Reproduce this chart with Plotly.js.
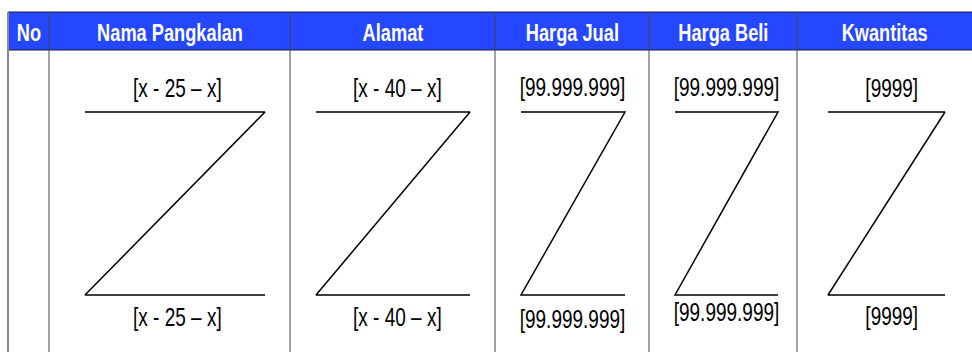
<!DOCTYPE html>
<html>
<head>
<meta charset="utf-8">
<script src="https://cdn.plot.ly/plotly-3.0.1.min.js"></script>
<style>
    html, body { margin: 0; padding: 0; background: #fff; }
    #plot { width: 972px; height: 352px; }
    /* the original uses a narrow face; squeeze Liberation Sans to match */
    #plot .annotation-text {
        transform-box: fill-box;
        transform-origin: center;
        transform: scaleX(0.76);
    }
</style>
</head>
<body>
<div id="plot"></div>
<script>
// Table content
const headers = ['No', 'Nama Pangkalan', 'Alamat', 'Harga Jual', 'Harga Beli', 'Kwantitas'];
const topLabels = ['', '[x - 25 – x]', '[x - 40 – x]', '[99.999.999]', '[99.999.999]', '[9999]'];
const bottomLabels = ['', '[x - 25 – x]', '[x - 40 – x]', '[99.999.999]', '[99.999.999]', '[9999]'];

// Layout of the drawing (pixel units, y down)
const colEdges = [8, 49, 290, 495, 649, 797, 972];
const zLeft = [null, 85, 316, 521, 675, 828];
const zRight = [null, 265, 470, 625, 778, 945];
const labelX = [null, 177, 397, 572, 726, 892];
const topLabelY = [null, 88, 88, 87, 87, 88];
const bottomLabelY = [null, 317, 317, 319, 312, 316];
const headerTop = 12, headerBottom = 50;
const zTop = 112, zBottom = 295;

const font = '"Liberation Sans", Arial, sans-serif';

function drawTable() {
    const traces = [];
    const annotations = [];
    const shapes = [];

    // Header band
    shapes.push({
        type: 'rect', xref: 'x', yref: 'y',
        x0: colEdges[0], x1: colEdges[colEdges.length - 1] + 2, y0: headerTop, y1: headerBottom,
        fillcolor: '#2447ff', line: { color: '#1a1a3a', width: 1 }, layer: 'below'
    });

    // Column separators
    colEdges.forEach((x, i) => {
        if (i === colEdges.length - 1) return;
        shapes.push({
            type: 'line', xref: 'x', yref: 'y',
            x0: x, x1: x, y0: headerTop, y1: 360,
            line: { color: i === 0 ? '#8a8a8a' : '#444', width: i === 0 ? 2 : 1 }
        });
    });

    headers.forEach((h, i) => {
        const cx = (colEdges[i] + colEdges[i + 1]) / 2;
        annotations.push({
            x: cx, y: (headerTop + headerBottom) / 2 + 1, xref: 'x', yref: 'y',
            text: '<b>' + h + '</b>', showarrow: false,
            xanchor: 'center', yanchor: 'middle',
            font: { family: font, size: 24, color: '#ffffff' }
        });

        if (i === 0) return;

        // Z mark
        traces.push({
            type: 'scatter', mode: 'lines',
            x: [zLeft[i], zRight[i], zLeft[i], zRight[i]],
            y: [zTop, zTop, zBottom, zBottom],
            line: { color: '#000', width: 1.5 },
            hoverinfo: 'skip', showlegend: false
        });

        annotations.push({
            x: labelX[i], y: topLabelY[i], xref: 'x', yref: 'y',
            text: topLabels[i], showarrow: false,
            xanchor: 'center', yanchor: 'middle',
            font: { family: font, size: 25, color: '#000' }
        });
        annotations.push({
            x: labelX[i], y: bottomLabelY[i], xref: 'x', yref: 'y',
            text: bottomLabels[i], showarrow: false,
            xanchor: 'center', yanchor: 'middle',
            font: { family: font, size: 25, color: '#000' }
        });
    });

    const layout = {
        width: 972,
        height: 352,
        margin: { l: 0, r: 0, t: 0, b: 0 },
        paper_bgcolor: '#fff',
        plot_bgcolor: '#fff',
        xaxis: { range: [0, 972], visible: false, fixedrange: true },
        yaxis: { range: [352, 0], visible: false, fixedrange: true },
        shapes: shapes,
        annotations: annotations,
        showlegend: false
    };

    Plotly.newPlot('plot', traces, layout, { displayModeBar: false, staticPlot: true });
}

drawTable();
</script>
</body>
</html>
